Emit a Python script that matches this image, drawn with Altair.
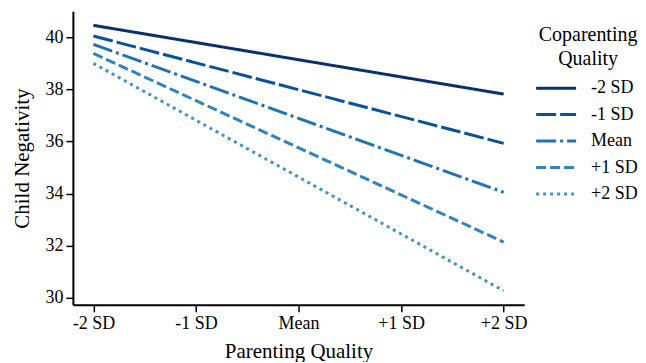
import altair as alt
import pandas as pd

groups = ["-2 SD", "-1 SD", "Mean", "+1 SD", "+2 SD"]
x_pos = [-2, 2]
start_vals = [40.46, 40.05, 39.73, 39.38, 39.0]
end_vals = [37.82, 35.93, 34.05, 32.14, 30.27]
colors = ["#08306b", "#08519c", "#2171b5", "#3182bd", "#4292c6"]
dashes = [[1, 0], [20, 4], [20, 4, 3, 4], [10, 4], [3, 4]]
x_ticks = [-2, -1, 0, 1, 2]
x_labels = ["-2 SD", "-1 SD", "Mean", "+1 SD", "+2 SD"]
legend_title = ["Coparenting", "Quality"]

rows = []
for g, s, e in zip(groups, start_vals, end_vals):
    rows.append({"group": g, "x": x_pos[0], "y": s})
    rows.append({"group": g, "x": x_pos[1], "y": e})
df = pd.DataFrame(rows)
leg_df = pd.DataFrame({"group": groups})
title_df = pd.DataFrame({"line": legend_title, "row": [0, 1]})

label_expr = " : ".join(
    [f"datum.value == {v} ? '{l}'" for v, l in zip(x_ticks, x_labels)]
) + " : ''"

font = "Liberation Serif"

color_enc = alt.Color("group:N", sort=groups,
                      scale=alt.Scale(domain=groups, range=colors), legend=None)
dash_enc = alt.StrokeDash("group:N", sort=groups,
                          scale=alt.Scale(domain=groups, range=dashes), legend=None)

lines = alt.Chart(df).mark_line(strokeWidth=3).encode(
    x=alt.X("x:Q", scale=alt.Scale(domain=[-2.2, 2.2], nice=False, zero=False),
            axis=alt.Axis(values=x_ticks, labelExpr=label_expr, title="Parenting Quality")),
    y=alt.Y("y:Q", scale=alt.Scale(domain=[29.73, 41.0], nice=False, zero=False),
            axis=alt.Axis(values=[30, 32, 34, 36, 38, 40], title="Child Negativity")),
    color=color_enc,
    strokeDash=dash_enc,
)

leg_y = alt.Y("group:N", sort=groups,
              scale=alt.Scale(type="point", domain=groups, range=[77, 183], padding=0),
              axis=None)

leg_rules = alt.Chart(leg_df).mark_rule(strokeWidth=3).encode(
    x=alt.value(464), x2=alt.value(504), y=leg_y,
    color=color_enc, strokeDash=dash_enc,
)

leg_text = alt.Chart(leg_df).mark_text(
    align="left", baseline="middle", font=font, fontSize=18, color="black"
).encode(x=alt.value(519), y=leg_y, text="group:N")

leg_title = alt.Chart(title_df).mark_text(
    align="center", baseline="middle", font=font, fontSize=20, color="black",
).encode(
    x=alt.value(516),
    y=alt.Y("row:O", scale=alt.Scale(type="point", domain=[0, 1], range=[24, 48], padding=0),
            axis=None),
    text="line:N",
)

chart = alt.layer(lines, leg_rules, leg_text, leg_title).resolve_scale(
    y="independent"
).properties(
    width=452, height=294,
    padding={"left": 4, "top": 3, "right": 0, "bottom": 0},
).configure_view(stroke=None).configure_axis(
    grid=False,
    domainColor="black",
    domainWidth=2,
    tickColor="black",
    tickWidth=1.5,
    tickSize=7,
    labelFont=font,
    titleFont=font,
    labelFontSize=18,
    titleFontSize=21,
    titleFontWeight="normal",
    labelColor="black",
    titleColor="black",
    labelPadding=3,
).configure_axisX(titlePadding=8).configure_axisY(titlePadding=12)

chart.save("out.html", embed_options={"renderer": "svg", "actions": False})
